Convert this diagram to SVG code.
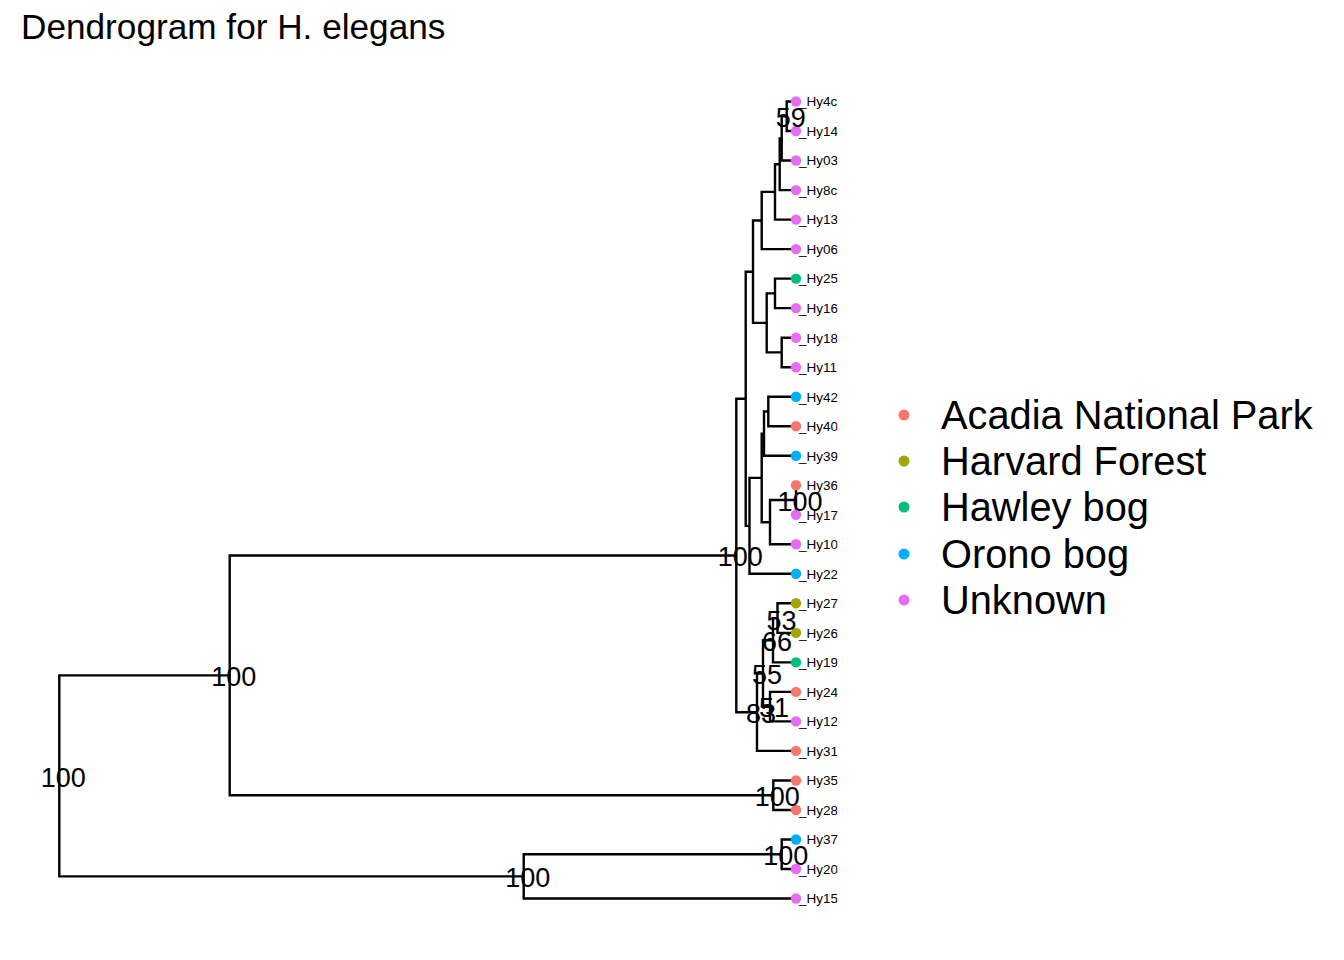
<svg xmlns="http://www.w3.org/2000/svg" width="1344" height="960" viewBox="0 0 1344 960">
<style>
text{font-family:"Liberation Sans",Arial,Helvetica,sans-serif;fill:#000}
.e{fill:none;stroke:#000;stroke-width:2.4;stroke-linejoin:miter}
.tl{font-size:13.5px}
.nl{font-size:27px;text-anchor:middle}
.lg{font-size:39.8px}
.t{font-size:35.2px}
.a{fill:#F8766D}.h{fill:#A3A500}.w{fill:#00BF7D}.o{fill:#00B0F6}.u{fill:#E76BF3}
</style>
<defs><clipPath id="cp"><rect x="0" y="60" width="837.5" height="880"/></clipPath></defs>
<rect width="1344" height="960" fill="#fff"/>
<text class="t" x="21" y="39">Dendrogram for H. elegans</text>
<g id="connectors">
<path class="e" d="M796,101.5H786.7V131H796"/>
<path class="e" d="M786.7,116.25H781.7V160.5H796"/>
<path class="e" d="M781.7,138.4H779.7V190.1H796"/>
<path class="e" d="M779.7,164.2H775V219.6H796"/>
<path class="e" d="M775,191.9H761.7V249.1H796"/>
<path class="e" d="M796,278.6H775V308.1H796"/>
<path class="e" d="M796,337.7H781.7V367.2H796"/>
<path class="e" d="M775,293.4H766.7V352.4H781.7"/>
<path class="e" d="M761.7,220.5H753V322.9H766.7"/>
<path class="e" d="M796,396.7H768.3V426.2H796"/>
<path class="e" d="M768.3,411.5H764V455.7H796"/>
<path class="e" d="M796,485.3H796V514.8H796"/>
<path class="e" d="M796,500.05H770V544.3H796"/>
<path class="e" d="M764,433.6H761.7V522.2H770"/>
<path class="e" d="M761.7,477.9H749.5V573.8H796"/>
<path class="e" d="M753,271.7H745.7V525.9H749.5"/>
<path class="e" d="M796,603.3H777.5V632.9H796"/>
<path class="e" d="M777.5,618.1H773V662.4H796"/>
<path class="e" d="M796,691.9H770V721.4H796"/>
<path class="e" d="M773,640.3H763V706.7H770"/>
<path class="e" d="M763,673.5H757V750.9H796"/>
<path class="e" d="M745.7,398.8H736.3V712.2H757"/>
<path class="e" d="M796,780.5H773.3V810H796"/>
<path class="e" d="M736.3,555.5H229.7V795.2H773.3"/>
<path class="e" d="M796,839.5H781.7V869H796"/>
<path class="e" d="M781.7,854.3H523.7V898.5H796"/>
<path class="e" d="M229.7,675.4H59.3V876.4H523.7"/>
</g>
<g id="tiplabels" class="tl" clip-path="url(#cp)">
<text x="799" y="106.3">_Hy4c</text>
<text x="799" y="135.8">_Hy14</text>
<text x="799" y="165.3">_Hy03</text>
<text x="799" y="194.9">_Hy8c</text>
<text x="799" y="224.4">_Hy13</text>
<text x="799" y="253.9">_Hy06</text>
<text x="799" y="283.4">_Hy25</text>
<text x="799" y="312.9">_Hy16</text>
<text x="799" y="342.5">_Hy18</text>
<text x="799" y="372">_Hy11</text>
<text x="799" y="401.5">_Hy42</text>
<text x="799" y="431">_Hy40</text>
<text x="799" y="460.5">_Hy39</text>
<text x="806.5" y="490.1">Hy36</text>
<text x="799" y="519.6">_Hy17</text>
<text x="799" y="549.1">_Hy10</text>
<text x="799" y="578.6">_Hy22</text>
<text x="799" y="608.1">_Hy27</text>
<text x="799" y="637.7">_Hy26</text>
<text x="799" y="667.2">_Hy19</text>
<text x="799" y="696.7">_Hy24</text>
<text x="799" y="726.2">_Hy12</text>
<text x="799" y="755.7">_Hy31</text>
<text x="806.5" y="785.3">Hy35</text>
<text x="799" y="814.8">_Hy28</text>
<text x="806.5" y="844.3">Hy37</text>
<text x="799" y="873.8">_Hy20</text>
<text x="799" y="903.3">_Hy15</text>
</g>
<g id="tips">
<circle class="u" cx="796" cy="101.5" r="5.2"/>
<circle class="u" cx="796" cy="131" r="5.2"/>
<circle class="u" cx="796" cy="160.5" r="5.2"/>
<circle class="u" cx="796" cy="190.1" r="5.2"/>
<circle class="u" cx="796" cy="219.6" r="5.2"/>
<circle class="u" cx="796" cy="249.1" r="5.2"/>
<circle class="w" cx="796" cy="278.6" r="5.2"/>
<circle class="u" cx="796" cy="308.1" r="5.2"/>
<circle class="u" cx="796" cy="337.7" r="5.2"/>
<circle class="u" cx="796" cy="367.2" r="5.2"/>
<circle class="o" cx="796" cy="396.7" r="5.2"/>
<circle class="a" cx="796" cy="426.2" r="5.2"/>
<circle class="o" cx="796" cy="455.7" r="5.2"/>
<circle class="a" cx="796" cy="485.3" r="5.2"/>
<circle class="u" cx="796" cy="514.8" r="5.2"/>
<circle class="u" cx="796" cy="544.3" r="5.2"/>
<circle class="o" cx="796" cy="573.8" r="5.2"/>
<circle class="h" cx="796" cy="603.3" r="5.2"/>
<circle class="h" cx="796" cy="632.9" r="5.2"/>
<circle class="w" cx="796" cy="662.4" r="5.2"/>
<circle class="a" cx="796" cy="691.9" r="5.2"/>
<circle class="u" cx="796" cy="721.4" r="5.2"/>
<circle class="a" cx="796" cy="750.9" r="5.2"/>
<circle class="a" cx="796" cy="780.5" r="5.2"/>
<circle class="a" cx="796" cy="810" r="5.2"/>
<circle class="o" cx="796" cy="839.5" r="5.2"/>
<circle class="u" cx="796" cy="869" r="5.2"/>
<circle class="u" cx="796" cy="898.5" r="5.2"/>
</g>
<g id="nodelabels" class="nl">
<text x="790.7" y="126.8">59</text>
<text x="800" y="510.5">100</text>
<text x="740.3" y="566">100</text>
<text x="781.5" y="629.5">53</text>
<text x="777" y="650.8">66</text>
<text x="767" y="684">55</text>
<text x="774" y="717.2">51</text>
<text x="761" y="722.7">83</text>
<text x="777.3" y="805.7">100</text>
<text x="233.7" y="686">100</text>
<text x="785.7" y="864.8">100</text>
<text x="527.7" y="886.9">100</text>
<text x="63.3" y="786.5">100</text>
</g>
<g id="legend" class="lg">
<circle class="a" cx="904" cy="415" r="5.5"/><text x="941" y="429">Acadia National Park</text>
<circle class="h" cx="904" cy="461" r="5.5"/><text x="941" y="475">Harvard Forest</text>
<circle class="w" cx="904" cy="507" r="5.5"/><text x="941" y="521">Hawley bog</text>
<circle class="o" cx="904" cy="554" r="5.5"/><text x="941" y="568">Orono bog</text>
<circle class="u" cx="904" cy="600" r="5.5"/><text x="941" y="614">Unknown</text>
</g>
</svg>
